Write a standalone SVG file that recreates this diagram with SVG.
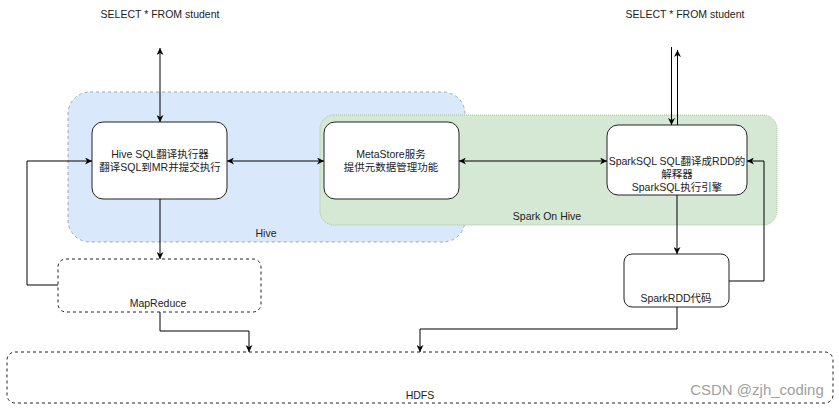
<svg xmlns="http://www.w3.org/2000/svg" width="839" height="408" viewBox="0 0 839 408">
<defs>
<marker id="arr" viewBox="0 0 10 10" refX="10" refY="5" markerWidth="7" markerHeight="7" orient="auto-start-reverse" markerUnits="userSpaceOnUse">
<path d="M0,0 L10,5 L0,10 L3,5 Z" fill="#000"/>
</marker>
</defs>
<style>
text{font-family:"Liberation Sans","Noto Sans CJK SC",Arial,sans-serif;font-size:10.5px;fill:#222;text-anchor:middle}
.box{fill:#fff;stroke:#222;stroke-width:1}
.dash{fill:#fff;stroke:#222;stroke-width:1;stroke-dasharray:3 3}
.c{fill:none;stroke:#000;stroke-width:1}
</style>
<rect width="839" height="408" fill="#fff"/>
<g id="hive">
<rect x="68" y="92" width="397" height="150" rx="22" fill="#dae8fc" stroke="#9aa7b8" stroke-dasharray="3 3"/>
<text x="266" y="237">Hive</text>
</g>
<g id="sparkonhive">
<rect x="320" y="115" width="457" height="110" rx="14" fill="#d5e8d4" stroke="#a9c49d" stroke-dasharray="1 1"/>
<text x="547" y="220">Spark On Hive</text>
</g>
<g id="select1"><text x="160" y="18">SELECT * FROM student</text></g>
<g id="select2"><text x="685" y="18">SELECT * FROM student</text></g>
<g id="hivesql">
<rect class="box" x="92" y="122" width="135" height="77" rx="11"/>
<text x="160" y="158">Hive SQL翻译执行器</text>
<text x="160" y="171">翻译SQL到MR并提交执行</text>
</g>
<g id="metastore">
<rect class="box" x="324" y="122" width="135" height="77" rx="11"/>
<text x="391" y="158">MetaStore服务</text>
<text x="391" y="171">提供元数据管理功能</text>
</g>
<g id="sparksql">
<rect class="box" x="607" y="125" width="140" height="70" rx="11"/>
<text x="677" y="165">SparkSQL SQL翻译成RDD的</text>
<text x="677" y="178">解释器</text>
<text x="677" y="191">SparkSQL执行引擎</text>
</g>
<g id="mapreduce">
<rect class="dash" x="58" y="259" width="203" height="53" rx="8"/>
<text x="158" y="307">MapReduce</text>
</g>
<g id="sparkrdd">
<rect class="box" x="624" y="254" width="105" height="53" rx="8"/>
<text x="676" y="302">SparkRDD代码</text>
</g>
<g id="hdfs">
<rect class="dash" x="7" y="352" width="826" height="51" rx="8"/>
<text x="420" y="399">HDFS</text>
</g>
<g id="watermark">
<text x="757" y="395" style="font-size:15px;fill:#a0a0a0">CSDN @zjh_coding</text>
</g>
<g id="connectors">
<path class="c" d="M160,48 L160,122" marker-start="url(#arr)" marker-end="url(#arr)"/>
<path class="c" d="M227,161 L324,161" marker-start="url(#arr)" marker-end="url(#arr)"/>
<path class="c" d="M459,161 L607,161" marker-start="url(#arr)" marker-end="url(#arr)"/>
<path class="c" d="M160,199 L160,259" marker-end="url(#arr)"/>
<path class="c" d="M58,285 L27,285 L27,161 L92,161" marker-end="url(#arr)"/>
<path class="c" d="M160,312 L160,331 L249,331 L249,352" marker-end="url(#arr)"/>
<path class="c" d="M677,307 L677,329 L420,329 L420,352" marker-end="url(#arr)"/>
<path class="c" d="M671.5,47 L671.5,125" marker-end="url(#arr)"/>
<path class="c" d="M677.5,125 L677.5,50" marker-end="url(#arr)"/>
<path class="c" d="M677,195 L677,254" marker-end="url(#arr)"/>
<path class="c" d="M729,281 L764,281 L764,161 L747,161" marker-end="url(#arr)"/>
</g>
</svg>
